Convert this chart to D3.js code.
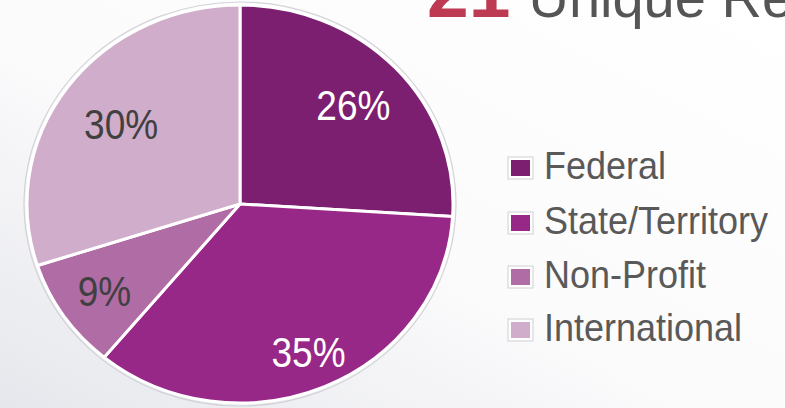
<!DOCTYPE html>
<html>
<head>
<meta charset="utf-8">
<script src="https://cdn.jsdelivr.net/npm/d3@7"></script>
<style>
  html, body { margin: 0; padding: 0; }
  body { width: 785px; height: 408px; overflow: hidden; }
  svg { display: block; }
</style>
</head>
<body>
<svg id="chart" width="785" height="408"></svg>
<script>
// ---- data ----
const categories = ["Federal", "State/Territory", "Non-Profit", "International"];
const values = [26, 35, 9, 30];
const valueLabels = ["26%", "35%", "9%", "30%"];
const titleNumber = "21";
const titleText = "Unique Recipients";

// ---- style / layout ----
const colors = ["#7D1F71", "#972887", "#B06CA5", "#D0ADCA"];
const labelColors = ["#ffffff", "#ffffff", "#404040", "#404040"];
const labelRadiusFactor = [0.73, 0.81, 0.77, 0.69];
const cx = 240, cy = 204, rx = 213, ry = 199;
const font = "'Liberation Sans', Arial, sans-serif";

const svg = d3.select("#chart");
const W = 785, H = 408;

// background gradient
const defs = svg.append("defs");
const grad = defs.append("linearGradient").attr("id", "bg")
  .attr("x1", "1").attr("y1", "0").attr("x2", "0").attr("y2", "1");
grad.append("stop").attr("offset", "0").attr("stop-color", "#ffffff");
grad.append("stop").attr("offset", "0.55").attr("stop-color", "#fbfbfc");
grad.append("stop").attr("offset", "1").attr("stop-color", "#e6e7ec");
svg.append("rect").attr("width", W).attr("height", H).attr("fill", "url(#bg)");

// title (cut off at the top edge, as in the reference)
const title = svg.append("text")
  .attr("x", 427).attr("y", 17)
  .attr("font-family", font);
title.append("tspan").text(titleNumber)
  .attr("font-size", 75).attr("font-weight", "bold").attr("fill", "#BE3A52");
title.append("tspan").text(titleText)
  .attr("dx", 18)
  .attr("font-size", 56).attr("fill", "#555555");

// pie
const pie = d3.pie().sort(null).value(d => d)(values);
const arc = d3.arc().innerRadius(0).outerRadius(rx);
const sy = ry / rx;

const g = svg.append("g").attr("transform", `translate(${cx},${cy})`);

// outer shadow ring
g.append("ellipse").attr("rx", rx + 3).attr("ry", ry + 3)
  .attr("fill", "none").attr("stroke", "#c9c9cf").attr("stroke-width", 1.2)
  .attr("opacity", 0.8);

const pg = g.append("g").attr("transform", `scale(1,${sy})`);
pg.selectAll("path").data(pie).join("path")
  .attr("d", arc)
  .attr("fill", (d, i) => colors[i])
  .attr("stroke", "#ffffff")
  .attr("stroke-width", 3)
  .attr("stroke-linejoin", "round")
  .attr("vector-effect", "non-scaling-stroke");

// labels
g.selectAll("text.lbl").data(pie).join("text")
  .attr("class", "lbl")
  .attr("transform", (d, i) => {
    const a = (d.startAngle + d.endAngle) / 2;
    const x = Math.sin(a) * rx * labelRadiusFactor[i];
    const y = -Math.cos(a) * ry * labelRadiusFactor[i];
    return `translate(${x},${y}) scale(1,1.16)`;
  })
  .attr("dy", "0.36em")
  .attr("text-anchor", "middle")
  .attr("font-family", font)
  .attr("font-size", 37)
  .attr("fill", (d, i) => labelColors[i])
  .text((d, i) => valueLabels[i]);

// legend
const legend = svg.append("g").attr("transform", "translate(509,0)");
const baselines = [179, 234, 288, 341];
const rows = legend.selectAll("g").data(categories).join("g")
  .attr("transform", (d, i) => `translate(0,${baselines[i]})`);
rows.append("rect")
  .attr("x", -1).attr("y", -22).attr("width", 25).attr("height", 22)
  .attr("fill", "#ffffff").attr("stroke", "#cfcfd4").attr("stroke-width", 1);
rows.append("rect")
  .attr("x", 2).attr("y", -19).attr("width", 19).attr("height", 16)
  .attr("fill", (d, i) => colors[i]);
rows.append("text")
  .attr("x", 35).attr("y", 0)
  .attr("transform", "scale(1,1.06)")
  .attr("font-family", font)
  .attr("font-size", 36)
  .attr("fill", "#595959")
  .text(d => d);
</script>
</body>
</html>
